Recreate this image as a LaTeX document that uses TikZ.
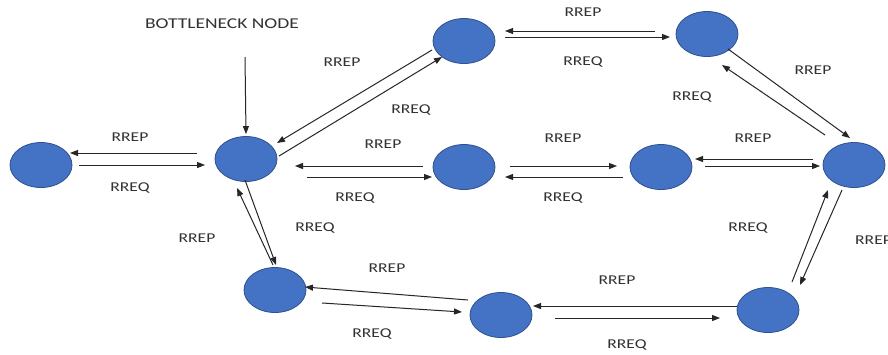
\documentclass[tikz,border=0pt]{standalone}
\usepackage{fontspec}
\newfontfamily\labfont[FakeStretch=1.3]{Carlito}
\usetikzlibrary{shapes.geometric,arrows.meta,calc}
\definecolor{nodeblue}{RGB}{68,114,196}
\definecolor{nodeedge}{RGB}{47,82,143}
\definecolor{labgray}{RGB}{50,50,50}
\begin{document}
\begin{tikzpicture}[x=1pt,y=-1pt,
  station/.style={ellipse, draw=nodeedge, line width=0.8pt, fill=nodeblue,
    minimum width=62pt, minimum height=45pt, inner sep=0pt},
  msg/.style={-{Triangle[length=8pt,width=6pt]}, line width=1pt, draw=black!85},
  lab/.style={font=\labfont\fontsize{13.5}{15}\selectfont, text=labgray, inner sep=0pt}]
\fill[white] (0,0) rectangle (888,354);
\path[use as bounding box] (0,0) rectangle (888,354);

% stations
\node[station] (A) at (41,165) {};
\node[station] (B) at (246,159) {};
\node[station] (C) at (464,41) {};
\node[station] (D) at (707,34) {};
\node[station] (E) at (464,167) {};
\node[station] (F) at (661,167) {};
\node[station] (G) at (854,165) {};
\node[station] (H) at (275,290) {};
\node[station] (I) at (501,315) {};
\node[station] (J) at (768,310) {};

% bottleneck marker
\node[lab,font=\labfont\fontsize{15}{17}\selectfont] (bn) at (222,24) {BOTTLENECK NODE};
\coordinate (bnstart) at (245,57);
\draw[msg] (bnstart) -- ($(B.north)+(0,-2)$);

% A -- B
\draw[msg] ($(B)+(-49,-6)$) -- ($(A)+(29,-12)$);
\draw[msg] ($(A)+(38,0)$) -- ($(B)+(-41,6)$);
\node[lab] at (130,137) {RREP};
\node[lab] at (130,188) {RREQ};

% B -- C
\draw[msg] ($(C)+(-32,9)$) -- ($(B)+(31,-16)$);
\draw[msg] ($(B)+(33,-3)$) -- ($(C)+(-22,16)$);
\node[lab] at (342,62) {RREP};
\node[lab] at (411,110) {RREQ};

% C -- D
\draw[msg] ($(D)+(-52,-3)$) -- ($(C)+(41,-10)$);
\draw[msg] ($(C)+(41,-4)$) -- ($(D)+(-37,3)$);
\node[lab] at (583,12) {RREP};
\node[lab] at (583,62) {RREQ};

% D -- G
\draw[msg] ($(D)+(21,15)$) -- ($(G)+(-4,-27)$);
\draw[msg] ($(G)+(-29,-30)$) -- ($(D)+(15,31)$);
\node[lab] at (813,70) {RREP};
\node[lab] at (692,97) {RREQ};

% B -- E
\draw[msg] ($(E)+(-41,-1)$) -- ($(B)+(49,7)$);
\draw[msg] ($(B)+(61,18)$) -- ($(E)+(-32,10)$);
\node[lab] at (383,144) {RREP};
\node[lab] at (355,198) {RREQ};

% E -- F
\draw[msg] ($(E)+(46,-1)$) -- ($(F)+(-44,-1)$);
\draw[msg] ($(F)+(-38,10)$) -- ($(E)+(41,10)$);
\node[lab] at (563,138) {RREP};
\node[lab] at (563,198) {RREQ};

% F -- G
\draw[msg] ($(G)+(-41,-6)$) -- ($(F)+(34,-8)$);
\draw[msg] ($(F)+(44,-1)$) -- ($(G)+(-34,1)$);
\node[lab] at (753,138) {RREP};

% G -- J
\draw[msg] ($(J)+(24,-28)$) -- ($(G)+(-26,25)$);
\draw[msg] ($(G)+(-12,25)$) -- ($(J)+(32,-25)$);
\node[lab] at (748,228) {RREQ};
\node[lab,anchor=west] at (855,240) {RREP};

% J -- I
\draw[msg] ($(J)+(-31,-4)$) -- ($(I)+(32,-9)$);
\draw[msg] ($(I)+(54,3)$) -- ($(J)+(-48,8)$);
\node[lab] at (617,280) {RREP};
\node[lab] at (627,345) {RREQ};

% I -- H
\draw[msg] ($(I)+(-33,-15)$) -- ($(H)+(30,-3)$);
\draw[msg] ($(H)+(47,13)$) -- ($(I)+(-39,-3)$);
\node[lab] at (387,268) {RREP};
\node[lab] at (372,334) {RREQ};

% B -- H
\draw[msg] ($(H)+(-2,-25)$) -- ($(B)+(-9,29)$);
\draw[msg] ($(B)+(-1,21)$) -- ($(H)+(1,-25)$);
\node[lab] at (197,238) {RREP};
\node[lab] at (315,228) {RREQ};
\end{tikzpicture}
\end{document}
